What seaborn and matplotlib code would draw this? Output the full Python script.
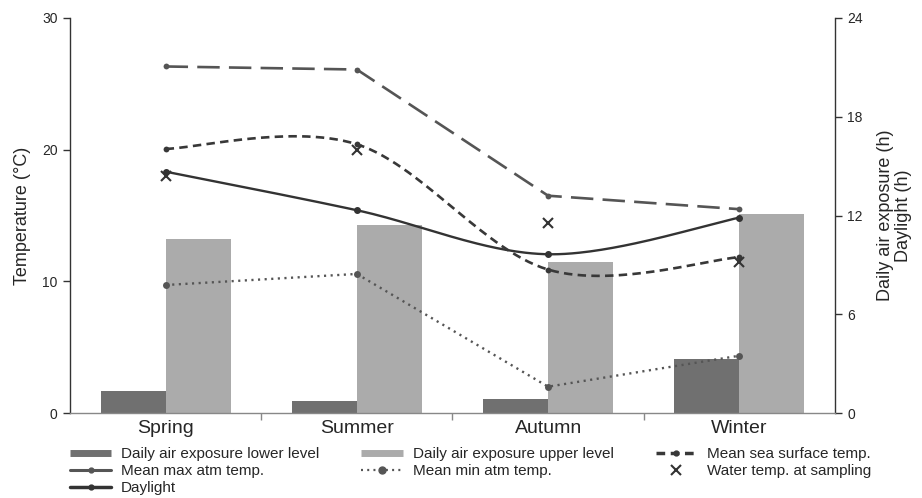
import numpy as np
import pandas as pd
import matplotlib
matplotlib.use("Agg")
import matplotlib.pyplot as plt
from matplotlib.lines import Line2D
import seaborn as sns

# Seasonal data
seasons = ["Spring", "Summer", "Autumn", "Winter"]
air_exposure_lower = [1.37, 0.75, 0.87, 3.3]      # h
air_exposure_upper = [10.6, 11.4, 9.16, 12.08]    # h
daylight = [14.66, 12.32, 9.65, 11.87]            # h
mean_max_atm = [26.3, 26.07, 16.5, 15.48]         # °C
mean_min_atm = [9.73, 10.57, 2.02, 4.37]          # °C
mean_sea_surface = [20.05, 20.4, 10.9, 11.84]     # °C
water_at_sampling = [18.0, 20.0, 14.45, 11.5]     # °C

left_ticks = [0, 10, 20, 30]
right_ticks = [0, 6, 12, 18, 24]


def smooth_curve(xs, ys, n=60):
    """Piecewise cubic Bezier through the points (spreadsheet-style smoothing)."""
    pts = np.column_stack([xs, ys]).astype(float)
    ext = np.vstack([pts[0], pts, pts[-1]])
    out = []
    t = np.linspace(0, 1, n)[:, None]
    for i in range(len(pts) - 1):
        p0, p3 = pts[i], pts[i + 1]
        c1 = p0 + (ext[i + 2] - ext[i]) / 6.0
        c2 = p3 - (ext[i + 3] - ext[i + 1]) / 6.0
        seg = ((1 - t) ** 3 * p0 + 3 * (1 - t) ** 2 * t * c1
               + 3 * (1 - t) * t ** 2 * c2 + t ** 3 * p3)
        out.append(seg if i == 0 else seg[1:])
    out = np.vstack(out)
    return out[:, 0], out[:, 1]


sns.set_style("white")
plt.rcParams["font.family"] = ["Liberation Sans", "DejaVu Sans"]

fig = plt.figure(figsize=(9.22, 4.98), dpi=100)
ax = fig.add_axes([0.0759, 0.170, 0.8297, 0.7945])
ax2 = ax.twinx()
ax.set_zorder(2)
ax2.set_zorder(1)
ax.patch.set_visible(False)

C_LOWER = "#707070"
C_UPPER = "#ababab"
C_MAX = "#555555"
C_SEA = "#383838"
C_DAY = "#333333"
C_MIN = "#555555"
C_X = "#333333"

# Bars: daily air exposure on the hours axis
bars = pd.DataFrame({
    "season": seasons * 2,
    "level": ["lower"] * 4 + ["upper"] * 4,
    "hours": air_exposure_lower + air_exposure_upper,
})
sns.barplot(data=bars, x="season", y="hours", hue="level",
            hue_order=["lower", "upper"], order=seasons,
            palette=[C_LOWER, C_UPPER], width=0.68, gap=0,
            saturation=1, linewidth=0, legend=False, ax=ax2, zorder=1)

xpos = np.arange(len(seasons))

# Daylight (hours axis, smoothed)
dx, dy = smooth_curve(xpos, daylight)
ax2.plot(dx, dy, color=C_DAY, lw=1.7, zorder=3)
ax2.plot(xpos, daylight, ls="none", marker="o", ms=4, color=C_DAY, zorder=3)

# Temperature lines
sns.lineplot(x=xpos, y=mean_max_atm, ax=ax, color=C_MAX, lw=1.9,
             linestyle=(0, (8.5, 3.5)), marker="o", markersize=4.2,
             markeredgewidth=0, sort=False, estimator=None, zorder=3)
sns.lineplot(x=xpos, y=mean_min_atm, ax=ax, color=C_MIN, lw=1.7,
             linestyle=(0, (0.9, 1.9)), marker="o", markersize=5,
             markeredgewidth=0, sort=False, estimator=None, zorder=3)
sx, sy = smooth_curve(xpos, mean_sea_surface)
ax.plot(sx, sy, color=C_SEA, lw=1.9, linestyle=(0, (3.2, 2.0)), zorder=3)
ax.plot(xpos, mean_sea_surface, ls="none", marker="o", ms=4.2, color=C_SEA,
        mew=0, zorder=3)
ax.plot(xpos, water_at_sampling, ls="none", marker="x", ms=7.5, mew=1.5,
        color=C_X, zorder=4)

# Axes limits and ticks
ax.set_xlim(-0.5, 3.5)
ax.set_ylim(0, 30)
ax2.set_ylim(0, 24)
ax.set_yticks(left_ticks)
ax2.set_yticks(right_ticks)
ax.set_xticks(xpos)
ax.set_xticklabels(seasons, fontsize=14)
ax.set_xticks(xpos[:-1] + 0.5, minor=True)
ax.tick_params(axis="x", which="major", length=0, pad=5)
ax.tick_params(axis="x", which="minor", length=5, width=1, color="#888888",
               direction="out", bottom=True)
ax.tick_params(axis="y", length=5, width=1, color="#333333", labelsize=10,
               direction="out", left=True, pad=4)
ax2.tick_params(axis="y", length=5, width=1, color="#333333", labelsize=10,
                direction="out", right=True, pad=4)
ax.set_xlabel("")
ax2.set_xlabel("")
ax2.set_ylabel("")

ax.set_ylabel("Temperature (°C)", fontsize=13, labelpad=8)
ax2.set_ylabel("Daily air exposure (h)\nDaylight (h)", fontsize=13,
               labelpad=10, rotation=90, linespacing=1.05, ha="center")

for a in (ax, ax2):
    a.spines["top"].set_visible(False)
ax.spines["right"].set_visible(False)
ax2.spines["left"].set_visible(False)
ax2.spines["bottom"].set_visible(False)
ax.spines["left"].set_color("#333333")
ax2.spines["right"].set_color("#333333")
ax.spines["bottom"].set_color("#888888")
for s in ("left", "bottom"):
    ax.spines[s].set_linewidth(1.0)
ax2.spines["right"].set_linewidth(1.0)

# Legend (column-major order for three columns)
handles = [
    Line2D([], [], color=C_LOWER, lw=5, solid_capstyle="butt"),
    Line2D([], [], color=C_MAX, lw=2.2, marker="o", ms=3.5),
    Line2D([], [], color=C_DAY, lw=2.5, marker="o", ms=3.5),
    Line2D([], [], color=C_UPPER, lw=5, solid_capstyle="butt"),
    Line2D([], [], color=C_MIN, lw=1.6, ls=(0, (0.9, 1.9)), marker="o", ms=5),
    Line2D([], [], color=C_SEA, lw=2.5, ls=(0, (2.5, 1.6)), marker="o", ms=3.5),
    Line2D([], [], color=C_X, ls="none", marker="x", ms=7.5, mew=1.5),
]
labels = [
    "Daily air exposure lower level",
    "Mean max atm temp.",
    "Daylight",
    "Daily air exposure upper level",
    "Mean min atm temp.",
    "Mean sea surface temp.",
    "Water temp. at sampling",
]
fig.legend(handles, labels, loc="upper left", bbox_to_anchor=(70 / 922, 1 - 447 / 498),
           ncol=3, frameon=False, fontsize=11, handlelength=2.7,
           handletextpad=0.65, columnspacing=2.75, labelspacing=0.2,
           borderpad=0, borderaxespad=0)

fig.savefig("out.png", dpi=100)
